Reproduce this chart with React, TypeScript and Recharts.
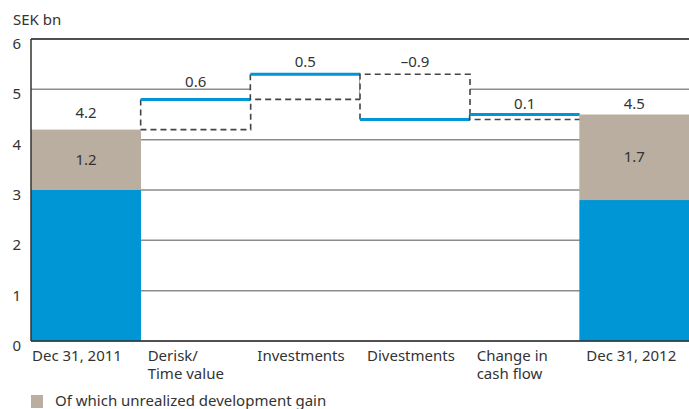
import { Bar, CartesianGrid, ComposedChart, ReferenceLine, XAxis, YAxis } from "recharts";

const categories = ["Dec 31, 2011", "Derisk/\nTime value", "Investments", "Divestments", "Change in\ncash flow", "Dec 31, 2012"];
const realizedValue = [3.0, null, null, null, null, 2.8];
const unrealizedGain = [1.2, null, null, null, null, 1.7];
const changes = [null, 0.6, 0.5, -0.9, 0.1, null];
const yTicks = [0, 1, 2, 3, 4, 5, 6];

const BLUE = "#0096d6";
const GRAY = "#b9ae9f";
const TEXT = "#333";
const FONT = "'Noto Sans', Lato, sans-serif";

// how far above the bar top each value label sits
const labelLift = [17, 17, 12, 12, 11, 11];

const r2 = (v: number) => Math.round(v * 100) / 100;

let running = 0;
const rows = categories.map((name, i) => {
  const blue = realizedValue[i];
  const gray = unrealizedGain[i];
  if (blue != null && gray != null) {
    running = r2(blue + gray);
    return { name, offset: 0, delta: 0, blue, gray, total: running, change: null as number | null };
  }
  const change = changes[i] as number;
  const start = running;
  const end = r2(start + change);
  running = end;
  return { name, offset: Math.min(start, end), delta: r2(Math.abs(change)), blue: 0, gray: 0, total: end, change };
});

function fmt(v: number) {
  return v < 0 ? "\u2013" + Math.abs(v).toFixed(1) : v.toFixed(1);
}

function DeltaShape(props: any) {
  const { x, y, width, height, payload, index } = props;
  if (!payload || payload.change == null || !height) return null;
  const up = payload.change >= 0;
  const outline = up
    ? `M${x},${y} V${y + height} H${x + width} V${y}`
    : `M${x},${y + height} V${y} H${x + width} V${y + height}`;
  const lineY = up ? y : y + height;
  return (
    <g>
      <rect x={x} y={y} width={width} height={height} fill="#fff" />
      <path d={outline} fill="none" stroke="#444" strokeWidth={1.6} strokeDasharray="6 4" />
      <line x1={x} x2={x + width} y1={lineY} y2={lineY} stroke={BLUE} strokeWidth={3} />
      <text x={x + width / 2} y={y - labelLift[index] + 5} textAnchor="middle" fill={TEXT} fontSize={15} fontFamily={FONT}>
        {fmt(payload.change)}
      </text>
    </g>
  );
}

function GrayShape(props: any) {
  const { x, y, width, height, payload, index } = props;
  if (!payload || !payload.gray || !height) return null;
  return (
    <g>
      <rect x={x} y={y} width={width} height={height} fill={GRAY} />
      <text x={x + width / 2} y={y + height / 2 + 5} textAnchor="middle" fill={TEXT} fontSize={15} fontFamily={FONT}>
        {payload.gray.toFixed(1)}
      </text>
      <text x={x + width / 2} y={y - labelLift[index] + 5} textAnchor="middle" fill={TEXT} fontSize={15} fontFamily={FONT}>
        {payload.total.toFixed(1)}
      </text>
    </g>
  );
}

function XTick(props: any) {
  const { x, y, payload, index } = props;
  const lines = String(payload.value).split("\n");
  const half = (689 - 31) / 12;
  const left = x - half + (index === 0 ? 1 : 7);
  return (
    <g>
      {lines.map((l, i) => (
        <text key={i} x={left} y={y + 20 + i * 18} textAnchor="start" fill={TEXT} fontSize={15} fontFamily={FONT}>
          {l}
        </text>
      ))}
    </g>
  );
}

function YTick(props: any) {
  const { x, y, payload } = props;
  return (
    <text x={x - 10} y={y + 10} textAnchor="end" fill={TEXT} fontSize={15} fontFamily={FONT}>
      {payload.value}
    </text>
  );
}

export default function App() {
  return (
    <div style={{ position: "absolute", left: 0, top: 0, width: 689, height: 409, overflow: "hidden", background: "#fff", fontFamily: FONT }}>
      <div style={{ position: "absolute", left: 13, top: 10, fontSize: 15, lineHeight: "18px", color: TEXT }}>SEK bn</div>
      <ComposedChart
        width={689}
        height={409}
        data={rows}
        margin={{ top: 39, right: 0, bottom: 20, left: 0 }}
        barCategoryGap={0}
        barGap={0}
      >
        <CartesianGrid vertical={false} stroke="#8c8c8c" strokeWidth={1.5} />
        <XAxis
          dataKey="name"
          height={48}
          tickLine={false}
          tickSize={0}
          tickMargin={0}
          axisLine={{ stroke: "#333", strokeWidth: 1.5 }}
          tick={<XTick />}
          interval={0}
        />
        <YAxis
          width={31}
          domain={[0, 6]}
          ticks={yTicks}
          tickLine={false}
          tickSize={0}
          tickMargin={0}
          axisLine={{ stroke: "#333", strokeWidth: 1.5 }}
          tick={<YTick />}
        />
        <ReferenceLine y={6} stroke="#333" strokeWidth={1.5} />
        <Bar dataKey="offset" stackId="a" fill="transparent" isAnimationActive={false} />
        <Bar dataKey="delta" stackId="a" shape={<DeltaShape />} isAnimationActive={false} />
        <Bar dataKey="blue" stackId="a" fill={BLUE} isAnimationActive={false} />
        <Bar dataKey="gray" stackId="a" fill={GRAY} shape={<GrayShape />} isAnimationActive={false} />
      </ComposedChart>
      <div style={{ position: "absolute", left: 31, top: 395, width: 12, height: 13, background: GRAY }} />
      <div style={{ position: "absolute", left: 55, top: 391, fontSize: 15, lineHeight: "18px", color: TEXT, whiteSpace: "nowrap" }}>
        Of which unrealized development gain
      </div>
    </div>
  );
}
